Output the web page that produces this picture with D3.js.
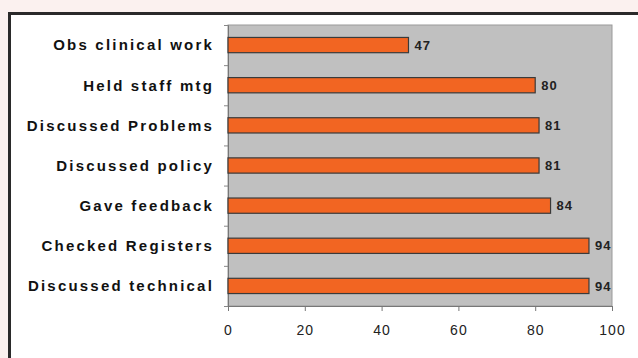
<!DOCTYPE html>
<html>
<head>
<meta charset="utf-8">
<script src="https://cdn.jsdelivr.net/npm/d3@7"></script>
<style>
  body { margin: 0; background: #fbf1ef; }
  svg { display: block; }
</style>
</head>
<body>
<div class="chart"></div>
<script>
// categories top to bottom, and their values
const categories = [
  "Obs clinical work",
  "Held staff mtg",
  "Discussed Problems",
  "Discussed policy",
  "Gave feedback",
  "Checked Registers",
  "Discussed technical"
];
const values = [47, 80, 81, 81, 84, 94, 94];
const xTicks = [0, 20, 40, 60, 80, 100];

const W = 638, H = 358;
const margin = { top: 25, right: 26, bottom: 52, left: 228 };
const width = W - margin.left - margin.right;
const height = H - margin.top - margin.bottom;

const svg = d3.select(".chart").append("svg")
  .attr("width", W)
  .attr("height", H);

// white panel with the heavy border on top/left
svg.append("rect")
  .attr("x", 9).attr("y", 13)
  .attr("width", W).attr("height", H)
  .attr("fill", "#fff");
svg.append("path")
  .attr("d", `M9.5,${H} V13.5 H${W}`)
  .attr("fill", "none")
  .attr("stroke", "#2a2a2a")
  .attr("stroke-width", 3);

const g = svg.append("g")
  .attr("transform", `translate(${margin.left},${margin.top})`);

const x = d3.scaleLinear().domain([0, 100]).range([0, width]);
const y = d3.scaleBand().domain(categories).range([0, height])
  .paddingInner(0.62).paddingOuter(0.31);

// plot area
g.append("rect")
  .attr("width", width).attr("height", height)
  .attr("fill", "#c0c0c0")
  .attr("stroke", "#9a9a9a")
  .attr("stroke-width", 1);

// y axis: ticks on category boundaries
const yb = d3.scaleLinear().domain([0, categories.length]).range([0, height]);
const yAxis = g.append("g")
  .call(d3.axisLeft(yb).ticks(categories.length).tickSize(4).tickFormat(""));
yAxis.select(".domain").attr("stroke", "#777");
yAxis.selectAll(".tick line").attr("stroke", "#888");

// category labels
g.append("g").selectAll("text")
  .data(categories)
  .enter().append("text")
  .attr("x", -14)
  .attr("y", (d) => y(d) + y.bandwidth() / 2)
  .attr("dy", "0.36em")
  .attr("text-anchor", "end")
  .style("font-family", "Liberation Sans, Arial, sans-serif")
  .style("font-weight", "bold")
  .style("font-size", "15px")
  .style("letter-spacing", "2.2px")
  .style("fill", "#111")
  .text((d) => d);

// x axis
const xAxis = g.append("g")
  .attr("transform", `translate(0,${height})`)
  .call(d3.axisBottom(x).tickValues(xTicks).tickSize(5).tickPadding(14));
xAxis.select(".domain").attr("stroke", "#777");
xAxis.selectAll(".tick line").attr("stroke", "#777");
xAxis.selectAll("text")
  .style("font-family", "Liberation Sans, Arial, sans-serif")
  .style("font-size", "14px")
  .style("letter-spacing", "1px")
  .style("fill", "#222");

// bars
g.append("g").selectAll("rect")
  .data(values)
  .enter().append("rect")
  .attr("x", 0)
  .attr("y", (d, i) => y(categories[i]))
  .attr("width", (d) => x(d))
  .attr("height", y.bandwidth())
  .attr("fill", "#f26522")
  .attr("stroke", "#3a3a3a")
  .attr("stroke-width", 1.2);

// value labels
g.append("g").selectAll("text")
  .data(values)
  .enter().append("text")
  .attr("x", (d) => x(d) + 6)
  .attr("y", (d, i) => y(categories[i]) + y.bandwidth() / 2)
  .attr("dy", "0.36em")
  .style("font-family", "Liberation Sans, Arial, sans-serif")
  .style("font-weight", "bold")
  .style("font-size", "13px")
  .style("letter-spacing", "1px")
  .style("fill", "#222")
  .text((d) => d);
</script>
</body>
</html>
